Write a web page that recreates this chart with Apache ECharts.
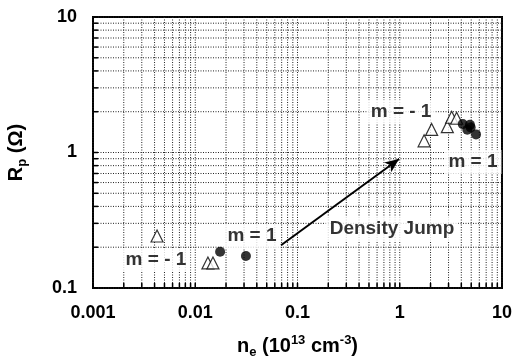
<!DOCTYPE html>
<html>
<head>
<meta charset="utf-8">
<script src="https://cdn.jsdelivr.net/npm/echarts@6/dist/echarts.min.js"></script>
<style>
  html, body { margin: 0; padding: 0; background: #fff; }
  #chart { width: 514px; height: 360px; }
</style>
</head>
<body>
<div id="chart"></div>
<script>
// m = -1 mode measurements (open triangles)
const triX = [0.00423, 0.0133, 0.0149, 1.73, 2.05, 2.92, 3.22, 3.60];
const triY = [0.242, 0.153, 0.153, 1.22, 1.48, 1.55, 1.82, 1.79];
// m = 1 mode measurements (filled circles)
const dotX = [0.0175, 0.0313, 4.13, 4.86, 4.58, 4.94, 5.57];
const dotY = [0.185, 0.172, 1.62, 1.60, 1.47, 1.53, 1.36];

// axis ranges and tick labels
const xMin = 0.001, xMax = 10;
const yMin = 0.1, yMax = 10;
const xTickLabels = ['0.001', '0.01', '0.1', '1', '10'];
const yTickLabels = ['0.1', '1', '10'];

// annotation texts and anchor points (data coordinates)
const noteText = ['m = - 1', 'm = 1', 'm = - 1', 'm = 1', 'Density Jump'];
const noteX = [0.00413, 0.0359, 1.03, 5.2, 0.839];
const noteY = [0.161, 0.242, 1.99, 0.851, 0.272];
const arrowFrom = [0.069, 0.207];
const arrowTo = [0.984, 0.895];

const FONT = '"Liberation Sans", Arial, Helvetica, sans-serif';

// log-decade grid values: 1..9 times each power of ten inside the range
function decadeGrid(lo, hi) {
  const out = [];
  for (let e = Math.round(Math.log10(lo)); e < Math.round(Math.log10(hi)); e++) {
    for (let k = 1; k <= 9; k++) out.push(+(k * Math.pow(10, e)).toPrecision(3));
  }
  out.push(hi);
  return out;
}
const xGrid = decadeGrid(xMin, xMax);
const yGrid = decadeGrid(yMin, yMax);

function gridLine(vertical) {
  return function (params, api) {
    const cs = params.coordSys;
    let shape, tick;
    if (vertical) {
      const p = api.coord([api.value(0), yMin])[0];
      shape = { x1: p, y1: cs.y, x2: p, y2: cs.y + cs.height };
      tick = { x1: p, y1: cs.y + cs.height, x2: p, y2: cs.y + cs.height - 5 };
    } else {
      const p = api.coord([xMin, api.value(1)])[1];
      shape = { x1: cs.x, y1: p, x2: cs.x + cs.width, y2: p };
      tick = { x1: cs.x, y1: p, x2: cs.x + 5, y2: p };
    }
    return {
      type: 'group',
      children: [
        { type: 'line', shape: shape, style: { stroke: '#222', lineWidth: 1, lineDash: [1, 1.5] } },
        { type: 'line', shape: tick, style: { stroke: '#000', lineWidth: 1.5 } }
      ]
    };
  };
}

const chart = echarts.init(document.getElementById('chart'));
chart.setOption({
  animation: false,
  backgroundColor: '#fff',
  grid: {
    left: 93, right: 12, top: 17, bottom: 72,
    containLabel: false, outerBoundsMode: 'none',
    show: true, borderColor: '#000', borderWidth: 2, backgroundColor: 'transparent'
  },
  xAxis: {
    type: 'log', logBase: 10, min: xMin, max: xMax,
    axisLine: { show: true, lineStyle: { color: '#000', width: 2 } },
    axisTick: { show: false },
    splitLine: { show: false },
    axisLabel: {
      color: '#000', fontFamily: FONT, fontWeight: 'bold', fontSize: 18, margin: 16,
      formatter: function (v) {
        const s = String(+(+v).toPrecision(3));
        return xTickLabels.indexOf(s) >= 0 ? s : '';
      }
    },
    name: 'n{sub|e} (10{sup|13} cm{sup|-3})',
    nameLocation: 'middle', nameGap: 46,
    nameTextStyle: {
      color: '#000', fontFamily: FONT, fontWeight: 'bold', fontSize: 20,
      rich: {
        sub: { fontFamily: FONT, fontWeight: 'bold', fontSize: 13, verticalAlign: 'bottom', padding: [12, 0, 0, 0] },
        sup: { fontFamily: FONT, fontWeight: 'bold', fontSize: 13, verticalAlign: 'top', padding: [0, 0, 9, 0] }
      }
    }
  },
  yAxis: {
    type: 'log', logBase: 10, min: yMin, max: yMax,
    axisLine: { show: true, lineStyle: { color: '#000', width: 2 } },
    axisTick: { show: false },
    splitLine: { show: false },
    axisLabel: {
      color: '#000', fontFamily: FONT, fontWeight: 'bold', fontSize: 18, margin: 16,
      formatter: function (v) {
        const s = String(+(+v).toPrecision(3));
        return yTickLabels.indexOf(s) >= 0 ? s : '';
      }
    },
    name: 'R{sub|p} (Ω)',
    nameLocation: 'middle', nameGap: 64, nameRotate: 90,
    nameTextStyle: {
      color: '#000', fontFamily: FONT, fontWeight: 'bold', fontSize: 20,
      rich: {
        sub: { fontFamily: FONT, fontWeight: 'bold', fontSize: 13, verticalAlign: 'bottom', padding: [12, 0, 0, 0] }
      }
    }
  },
  series: [
    {
      type: 'custom', silent: true, z: 1,
      data: xGrid.map(v => [v, 1]),
      renderItem: gridLine(true)
    },
    {
      type: 'custom', silent: true, z: 1,
      data: yGrid.map(v => [1, v]),
      renderItem: gridLine(false)
    },
    {
      // text annotations with white boxes over the grid
      type: 'scatter', silent: true, z: 3,
      symbolSize: 0,
      data: noteText.map((t, i) => ({ value: [noteX[i], noteY[i]], name: t })),
      label: {
        show: true, position: 'inside', formatter: '{b}',
        color: '#000', fontFamily: FONT, fontWeight: 'bold', fontSize: 19,
        backgroundColor: '#fff', padding: [3, 4, 2, 4]
      },
      markLine: {
        silent: true,
        symbol: ['none', 'arrow'], symbolSize: [9, 14],
        label: { show: false },
        lineStyle: { color: '#000', width: 2, type: 'solid' },
        data: [[{ coord: arrowFrom }, { coord: arrowTo }]]
      }
    },
    {
      name: 'm = -1', type: 'scatter', z: 5,
      symbol: 'triangle', symbolSize: 12,
      itemStyle: { color: '#fff', borderColor: '#000', borderWidth: 1.2 },
      data: triX.map((x, i) => [x, triY[i]])
    },
    {
      name: 'm = 1', type: 'scatter', z: 5,
      symbol: 'circle', symbolSize: 10,
      itemStyle: { color: '#000', borderColor: '#000', borderWidth: 0 },
      data: dotX.map((x, i) => [x, dotY[i]])
    }
  ]
});
</script>
</body>
</html>
